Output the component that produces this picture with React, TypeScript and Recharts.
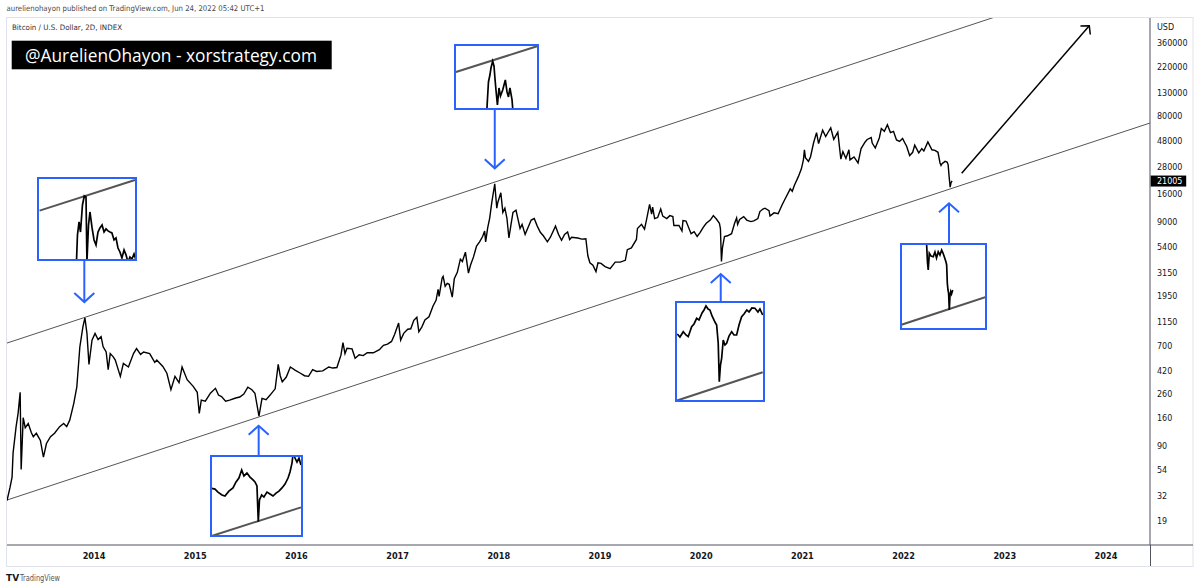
import React from 'react';
import { LineChart, Line, XAxis, YAxis } from 'recharts';

// axis ticks as printed by TradingView
const yearTicks = [2014, 2015, 2016, 2017, 2018, 2019, 2020, 2021, 2022, 2023, 2024];
const priceTicks = [19, 32, 54, 90, 160, 260, 420, 700, 1150, 1950, 3150, 5400, 9000, 16000, 21005, 28000, 48000, 80000, 130000, 220000, 360000];
const lastPrice = 21005;

// BTC/USD 2D, [decimal year, price]
const btc2013: [number, number][] = [
  [2013.14, 29], [2013.17, 38], [2013.19, 47], [2013.2, 77], [2013.23, 133], [2013.25, 176], [2013.27, 270],
  [2013.28, 55], [2013.3, 160], [2013.32, 130], [2013.35, 142], [2013.38, 118], [2013.4, 108], [2013.43, 116],
  [2013.47, 100], [2013.5, 71], [2013.53, 94], [2013.57, 108], [2013.61, 116], [2013.66, 133], [2013.7, 142],
  [2013.73, 133], [2013.76, 152], [2013.8, 215], [2013.83, 302], [2013.86, 690], [2013.89, 1040], [2013.91, 1250],
  [2013.93, 910], [2013.95, 480], [2013.98, 790],
];
const btc2014: [number, number][] = [
  [2014.01, 910], [2014.04, 800], [2014.07, 850], [2014.09, 690], [2014.12, 620], [2014.14, 430], [2014.16, 600],
  [2014.19, 560], [2014.21, 525], [2014.26, 375], [2014.29, 490], [2014.34, 455], [2014.39, 600], [2014.42, 665],
  [2014.46, 590], [2014.49, 620], [2014.55, 600], [2014.6, 500], [2014.62, 525], [2014.68, 460], [2014.72, 400],
  [2014.76, 285], [2014.8, 375], [2014.84, 330], [2014.87, 455], [2014.92, 350], [2014.98, 305],
];
const btc2015: [number, number][] = [
  [2015.02, 270], [2015.04, 175], [2015.06, 230], [2015.1, 225], [2015.15, 265], [2015.2, 293], [2015.23, 255],
  [2015.26, 247], [2015.3, 225], [2015.34, 230], [2015.4, 240], [2015.44, 245], [2015.48, 260], [2015.52, 300],
  [2015.56, 285], [2015.59, 265], [2015.63, 165], [2015.66, 238], [2015.7, 232], [2015.74, 255], [2015.79, 290],
  [2015.82, 480], [2015.84, 380], [2015.86, 335], [2015.9, 370], [2015.94, 455], [2015.99, 425],
];
const btc2016: [number, number][] = [
  [2016.04, 400], [2016.08, 380], [2016.12, 375], [2016.16, 430], [2016.2, 415], [2016.26, 420], [2016.32, 455],
  [2016.36, 445], [2016.4, 450], [2016.44, 580], [2016.46, 750], [2016.48, 600], [2016.5, 670], [2016.55, 660],
  [2016.58, 545], [2016.62, 585], [2016.66, 575], [2016.7, 610], [2016.76, 610], [2016.82, 650], [2016.86, 710],
  [2016.9, 730], [2016.94, 770], [2016.97, 890],
];
const btc2017: [number, number][] = [
  [2017.01, 1125], [2017.03, 790], [2017.06, 910], [2017.1, 990], [2017.13, 1000], [2017.16, 1190], [2017.19, 1270],
  [2017.21, 940], [2017.24, 1040], [2017.27, 1200], [2017.31, 1280], [2017.35, 1600], [2017.38, 1800], [2017.4, 2250],
  [2017.41, 1950], [2017.44, 2850], [2017.45, 2950], [2017.47, 2400], [2017.49, 2550], [2017.51, 2500], [2017.54, 1920],
  [2017.56, 2800], [2017.59, 3200], [2017.62, 4200], [2017.64, 4000], [2017.67, 4850], [2017.7, 3150], [2017.72, 3700],
  [2017.75, 4400], [2017.78, 5500], [2017.81, 6000], [2017.84, 6700], [2017.86, 7500], [2017.87, 6000], [2017.89, 8000],
  [2017.91, 9800], [2017.93, 13400], [2017.96, 19800], [2017.98, 12000], [2017.99, 13500],
];
const btc2018: [number, number][] = [
  [2018.02, 16500], [2018.04, 11000], [2018.06, 12000], [2018.08, 9800], [2018.1, 6500], [2018.12, 8500], [2018.14, 11000],
  [2018.17, 11500], [2018.21, 7900], [2018.23, 8600], [2018.26, 7000], [2018.29, 8100], [2018.32, 9400], [2018.35, 9700],
  [2018.38, 8300], [2018.41, 7300], [2018.44, 6800], [2018.48, 6000], [2018.51, 6600], [2018.56, 8300], [2018.59, 7000],
  [2018.62, 6200], [2018.65, 7000], [2018.68, 7350], [2018.7, 6300], [2018.72, 6600], [2018.78, 6500], [2018.82, 6350],
  [2018.86, 6400], [2018.88, 4500], [2018.9, 3900], [2018.93, 3700], [2018.96, 3250], [2018.98, 3900],
];
const btc2019: [number, number][] = [
  [2019.01, 3850], [2019.05, 3600], [2019.1, 3450], [2019.15, 3950], [2019.2, 3950], [2019.25, 4100], [2019.27, 5100],
  [2019.31, 5300], [2019.36, 6300], [2019.37, 7900], [2019.41, 8600], [2019.44, 7800], [2019.46, 9500], [2019.49, 13000],
  [2019.51, 10600], [2019.52, 12300], [2019.54, 9700], [2019.57, 9900], [2019.6, 11800], [2019.62, 10200], [2019.66, 9700],
  [2019.69, 10300], [2019.72, 10100], [2019.73, 8400], [2019.78, 8400], [2019.81, 7500], [2019.82, 9300], [2019.85, 9200],
  [2019.9, 7100], [2019.93, 7400], [2019.96, 6700], [2019.99, 7300],
];
const btc2020: [number, number][] = [
  [2020.02, 8100], [2020.05, 8800], [2020.09, 9400], [2020.12, 10300], [2020.15, 9600], [2020.18, 8800], [2020.19, 7900],
  [2020.2, 4000], [2020.21, 5300], [2020.23, 6700], [2020.26, 6800], [2020.3, 7100], [2020.33, 8800], [2020.35, 9800],
  [2020.36, 8600], [2020.38, 9500], [2020.42, 10100], [2020.45, 9400], [2020.49, 9100], [2020.52, 9250], [2020.56, 9700],
  [2020.58, 11200], [2020.61, 11800], [2020.63, 12000], [2020.67, 11400], [2020.68, 10200], [2020.72, 10900], [2020.76, 10700],
  [2020.8, 12900], [2020.84, 15200], [2020.88, 17900], [2020.9, 17000], [2020.92, 19200], [2020.96, 23000], [2020.99, 27000],
];
const btc2021: [number, number][] = [
  [2021.01, 32500], [2021.02, 40000], [2021.03, 34000], [2021.06, 31500], [2021.08, 34500], [2021.11, 46000], [2021.14, 57000],
  [2021.16, 45500], [2021.2, 60000], [2021.23, 52500], [2021.28, 63000], [2021.31, 49500], [2021.35, 57500], [2021.38, 33000],
  [2021.4, 38500], [2021.43, 33500], [2021.46, 40000], [2021.47, 32500], [2021.51, 34500], [2021.55, 30500], [2021.58, 41000],
  [2021.62, 47000], [2021.64, 49500], [2021.68, 51500], [2021.69, 46000], [2021.72, 41500], [2021.76, 51000], [2021.78, 62000],
  [2021.81, 58500], [2021.84, 67000], [2021.87, 57000], [2021.9, 58500], [2021.93, 49000], [2021.96, 47500], [2021.99, 50500],
];
const btc2022: [number, number][] = [
  [2022.01, 46500], [2022.03, 43000], [2022.06, 35500], [2022.09, 38000], [2022.11, 44000], [2022.15, 37500], [2022.18, 41000],
  [2022.2, 39000], [2022.24, 47000], [2022.28, 40000], [2022.31, 39500], [2022.34, 38000], [2022.36, 30500], [2022.37, 29000],
  [2022.38, 30000], [2022.41, 31500], [2022.43, 31000], [2022.44, 29500], [2022.45, 23000], [2022.46, 18500], [2022.47, 20500],
  [2022.48, 21005],
];

// channel drawn on the chart (start / end of each trend line)
const upperChannel: [number, number][] = [[2013.14, 745], [2024.435, 1773000]];
const lowerChannel: [number, number][] = [[2013.14, 29.3], [2024.435, 69460]];

// projection arrow
const targetArrow: [number, number][] = [[2022.574, 24640], [2023.835, 516600]];

// blue arrows between zoom boxes and the chart: [year, from, to]
const blueArrows: [number, number, number][] = [
  [2013.904, 4125, 1735],
  [2017.96, 92700, 27300],
  [2015.627, 72.5, 135.5],
  [2020.193, 1746, 3091],
  [2022.449, 5820, 13270],
];

// zoom boxes
const inset1Price: [number, number][] = [
  [2013.847, 360], [2013.858, 668], [2013.87, 821], [2013.881, 700], [2013.896, 1075], [2013.91, 1240], [2013.923, 1220],
  [2013.93, 435], [2013.942, 782], [2013.953, 962], [2013.969, 747], [2013.984, 617], [2013.999, 570], [2014.014, 700],
  [2014.029, 747], [2014.045, 782], [2014.06, 700], [2014.075, 735], [2014.09, 712], [2014.105, 700], [2014.12, 690],
  [2014.136, 617], [2014.151, 637], [2014.166, 543], [2014.181, 510], [2014.196, 464], [2014.212, 527], [2014.227, 487],
  [2014.242, 435], [2014.257, 471], [2014.272, 456], [2014.288, 494], [2014.303, 449],
];
const inset1Channel: [number, number][] = [[2013.57, 982], [2014.295, 1598]];

const inset2Price: [number, number][] = [
  [2017.914, 8450], [2017.92, 10720], [2017.928, 14260], [2017.939, 15930], [2017.947, 17800], [2017.96, 19800],
  [2017.97, 18380], [2017.977, 15190], [2017.985, 12560], [2017.996, 9900], [2018.008, 12970], [2018.019, 11420],
  [2018.036, 12560], [2018.046, 13600], [2018.056, 14720], [2018.069, 12170], [2018.08, 11240], [2018.091, 12970],
  [2018.107, 10720], [2018.114, 8860],
];
const inset2Channel: [number, number][] = [[2017.681, 16710], [2018.297, 25110]];

const inset3Price: [number, number][] = [
  [2015.286, 280], [2015.311, 277], [2015.334, 264], [2015.364, 252], [2015.387, 248], [2015.417, 268], [2015.448, 282],
  [2015.471, 310], [2015.493, 330], [2015.514, 375], [2015.531, 341], [2015.554, 357], [2015.577, 335], [2015.6, 320],
  [2015.615, 310], [2015.63, 291], [2015.64, 165], [2015.649, 233], [2015.666, 252], [2015.683, 244], [2015.706, 264],
  [2015.729, 256], [2015.752, 248], [2015.775, 260], [2015.797, 268], [2015.82, 282], [2015.843, 300], [2015.866, 330],
  [2015.881, 363], [2015.896, 418], [2015.906, 498], [2015.919, 453], [2015.934, 425], [2015.949, 453], [2015.964, 406],
];
const inset3Channel: [number, number][] = [[2015.286, 131.5], [2015.964, 207]];

const inset4Price: [number, number][] = [
  [2019.881, 8310], [2019.901, 7920], [2019.926, 8620], [2019.947, 8180], [2019.964, 7960], [2019.99, 9330], [2020.008, 9740],
  [2020.028, 10660], [2020.046, 10370], [2020.069, 11590], [2020.084, 12160], [2020.099, 12960], [2020.115, 12350],
  [2020.129, 12160], [2020.145, 11060], [2020.154, 10660], [2020.167, 10050], [2020.18, 9590], [2020.192, 7170],
  [2020.2, 3900], [2020.209, 5080], [2020.218, 5650], [2020.23, 7560], [2020.243, 6980], [2020.256, 7170], [2020.274, 8050],
  [2020.294, 8620], [2020.312, 8180], [2020.332, 8180], [2020.35, 9590], [2020.37, 10940], [2020.388, 11410],
  [2020.409, 12160], [2020.426, 11780], [2020.448, 12550], [2020.471, 12500], [2020.494, 11780], [2020.509, 12350],
  [2020.53, 11230],
];
const inset4Channel: [number, number][] = [[2019.869, 2872], [2020.53, 4530]];

const inset5Price: [number, number][] = [
  [2022.288, 49630], [2022.294, 37900], [2022.3, 33380], [2022.308, 43500], [2022.321, 41670], [2022.338, 41200],
  [2022.351, 44400], [2022.363, 40370], [2022.376, 44600], [2022.389, 42340], [2022.402, 45830], [2022.412, 43710],
  [2022.422, 41200], [2022.435, 37900], [2022.44, 36140], [2022.445, 27030], [2022.45, 24300], [2022.455, 23060],
  [2022.46, 17700], [2022.465, 22110], [2022.471, 23670], [2022.477, 22820], [2022.486, 24300],
];
const inset5Channel: [number, number][] = [[2022.091, 13950], [2022.739, 21750]];

const insets = [
  { left: 38, top: 178, width: 98, height: 82, xDomain: [2013.558, 2014.303], yDomain: [449, 1649], price: inset1Price, channel: inset1Channel },
  { left: 455, top: 45, width: 83, height: 64, xDomain: [2017.674, 2018.304], yDomain: [9290, 25640], price: inset2Price, channel: inset2Channel },
  { left: 211, top: 456, width: 91, height: 80, xDomain: [2015.281, 2015.972], yDomain: [131.5, 468], price: inset3Price, channel: inset3Channel },
  { left: 676, top: 302, width: 88, height: 99, xDomain: [2019.871, 2020.54], yDomain: [2872, 13800], price: inset4Price, channel: inset4Channel },
  { left: 901, top: 244, width: 85, height: 85, xDomain: [2022.093, 2022.739], yDomain: [13090, 50400], price: inset5Price, channel: inset5Channel },
];

const BLUE = '#2962ff';
const TEXT = '#131722';
const AXIS = '#50535e';
const FONT = '"DejaVu Sans", sans-serif';

const toPoints = (pairs: [number, number][]) => pairs.map(([t, p]) => ({ t, p }));

const btcData = toPoints([
  ...btc2013, ...btc2014, ...btc2015, ...btc2016, ...btc2017,
  ...btc2018, ...btc2019, ...btc2020, ...btc2021, ...btc2022,
]);

const YTick = ({ x, y, payload }: any) => {
  const v = payload.value;
  if (v === lastPrice) {
    return (
      <g>
        <rect x={x - 6.3} y={y - 5.5} width={35.5} height={11} fill="#000" />
        <text x={x} y={y + 3} fill="#fff" fontSize={8} fontFamily={FONT}>{v}</text>
      </g>
    );
  }
  return <text x={x} y={y + 3} fill={TEXT} fontSize={8} fontFamily={FONT}>{v}</text>;
};

const XTick = ({ x, y, payload }: any) => (
  <text x={x} y={y} dy="0.71em" textAnchor="middle" fill={TEXT} fontSize={8.2} fontWeight={600} fontFamily={FONT}>
    {payload.value}
  </text>
);

const Inset = ({ cfg }: { cfg: any }) => (
  <div style={{ position: 'absolute', left: cfg.left, top: cfg.top, width: cfg.width, height: cfg.height, background: '#fff' }}>
    <LineChart width={cfg.width} height={cfg.height} margin={{ top: 0, right: 0, bottom: 0, left: 0 }}>
      <XAxis type="number" dataKey="t" domain={cfg.xDomain} hide allowDataOverflow />
      <YAxis type="number" scale="log" domain={cfg.yDomain} hide allowDataOverflow />
      <Line data={toPoints(cfg.channel)} dataKey="p" stroke="#555" strokeWidth={2} dot={false} activeDot={false} isAnimationActive={false} />
      <Line data={toPoints(cfg.price)} dataKey="p" stroke="#000" strokeWidth={1.7} dot={false} activeDot={false} isAnimationActive={false} />
    </LineChart>
    <div style={{ position: 'absolute', left: -1, top: -1, width: cfg.width + 2, height: cfg.height + 2, border: `2px solid ${BLUE}`, boxSizing: 'border-box' }} />
  </div>
);

export default function App() {
  return (
    <div style={{ position: 'absolute', left: 0, top: 0, width: 1200, height: 588, background: '#fff', overflow: 'hidden' }}>
      <LineChart width={1200} height={588} margin={{ top: 17, right: 0, bottom: 0, left: 7 }}>
        <defs>
          <marker id="arrowBlue" viewBox="-12 -12 24 24" refX={0} refY={0} markerWidth={24} markerHeight={24} markerUnits="userSpaceOnUse" orient="auto">
            <path d="M -9 -10 L 0 0 L -9 10" fill="none" stroke={BLUE} strokeWidth={2} />
          </marker>
          <marker id="arrowBlack" viewBox="-10 -10 20 20" refX={0} refY={0} markerWidth={20} markerHeight={20} markerUnits="userSpaceOnUse" orient="auto">
            <path d="M -6 -6.5 L 0 0 L -6 6.5" fill="none" stroke="#000" strokeWidth={1.5} />
          </marker>
        </defs>
        <XAxis
          type="number"
          dataKey="t"
          domain={[2013.14, 2024.435]}
          ticks={yearTicks}
          allowDataOverflow
          height={43}
          tickLine={false}
          tickSize={6}
          tickMargin={2}
          axisLine={{ stroke: AXIS }}
          tick={<XTick />}
        />
        <YAxis
          orientation="right"
          type="number"
          scale="log"
          domain={[11.6, 617700]}
          ticks={priceTicks}
          interval={0}
          allowDataOverflow
          width={50}
          tickLine={false}
          tickSize={5}
          tickMargin={2}
          axisLine={{ stroke: AXIS }}
          tick={<YTick />}
        />
        <Line data={toPoints(upperChannel)} dataKey="p" stroke="#555" strokeWidth={1} dot={false} activeDot={false} isAnimationActive={false} />
        <Line data={toPoints(lowerChannel)} dataKey="p" stroke="#555" strokeWidth={1} dot={false} activeDot={false} isAnimationActive={false} />
        <Line data={btcData} dataKey="p" stroke="#000" strokeWidth={1.4} dot={false} activeDot={false} isAnimationActive={false} />
        <Line data={toPoints(targetArrow)} dataKey="p" stroke="#000" strokeWidth={1.5} dot={false} activeDot={false} isAnimationActive={false} markerEnd="url(#arrowBlack)" />
        {blueArrows.map(([t, from, to], i) => (
          <Line
            key={i}
            data={[{ t, p: from }, { t, p: to }]}
            dataKey="p"
            stroke={BLUE}
            strokeWidth={2}
            dot={false}
            activeDot={false}
            isAnimationActive={false}
            markerEnd="url(#arrowBlue)"
          />
        ))}
      </LineChart>

      <svg width={1200} height={588} style={{ position: 'absolute', left: 0, top: 0, pointerEvents: 'none' }}>
        <rect x={6.5} y={17.5} width={1186.5} height={549} fill="none" stroke="#e0e3eb" />
        <line x1={1150} y1={545} x2={1193} y2={545} stroke={AXIS} />
        <line x1={1150.5} y1={545} x2={1150.5} y2={566} stroke={AXIS} />
        <text x={6.5} y={11} fontSize={7.8} textLength={258} lengthAdjust="spacingAndGlyphs" fill="#4a4a4a" fontFamily={FONT}>
          aurelienohayon published on TradingView.com, Jun 24, 2022 05:42 UTC+1
        </text>
        <text x={12} y={29.5} fontSize={7.5} textLength={110} lengthAdjust="spacingAndGlyphs" fill="#333" fontFamily={FONT}>
          Bitcoin / U.S. Dollar, 2D, INDEX
        </text>
        <rect x={11.7} y={40.7} width={320} height={28.6} fill="#000" />
        <text x={25} y={61.5} fontSize={19} textLength={292} lengthAdjust="spacingAndGlyphs" fill="#fff" fontFamily='"Open Sans", sans-serif'>
          @AurelienOhayon - xorstrategy.com
        </text>
        <text x={1157} y={30} fontSize={8} fill={TEXT} fontFamily={FONT}>USD</text>
        <text x={6} y={581} fontSize={9} fontWeight="bold" fill={TEXT} fontFamily={FONT}>TV</text>
        <text x={20} y={581} fontSize={8.5} textLength={40} lengthAdjust="spacingAndGlyphs" fill="#555" fontFamily={FONT}>TradingView</text>
      </svg>

      {insets.map((cfg, i) => <Inset key={i} cfg={cfg} />)}
    </div>
  );
}
